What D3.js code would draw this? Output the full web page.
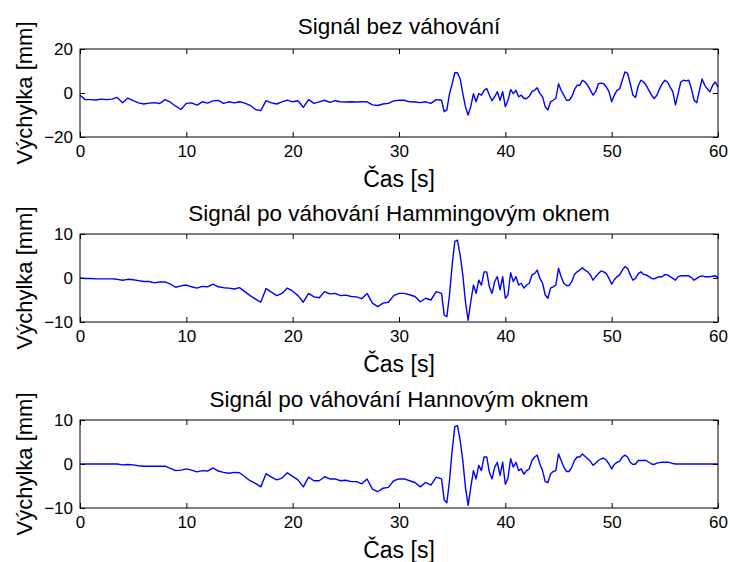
<!DOCTYPE html>
<html>
<head>
<meta charset="utf-8">
<script src="https://cdn.jsdelivr.net/npm/d3@7"></script>
<style>
  body { margin: 0; background: #fff; }
  svg text { font-family: Arial, "Liberation Sans", sans-serif; fill: #000; }
</style>
</head>
<body>
<svg id="chart" width="730" height="562"></svg>
<script>
// Sample times [s]: 0.5 s spacing in the quiet part, 0.25 s once the strong motion starts
const sampleTimes = [
  0,0.5,1,1.5,2,2.5,3,3.5,4,4.5,
  5,5.5,6,6.5,7,7.5,8,8.5,9,9.5,
  10,10.5,11,11.5,12,12.5,13,13.5,14,14.5,
  15,15.5,16,16.5,17,17.5,18,18.5,19,19.5,
  20,20.5,21,21.5,22,22.5,23,23.5,24,24.5,
  25,25.5,26,26.5,27,27.5,28,28.5,29,29.5,
  30,30.5,31,31.5,32,32.5,33,33.5,34,
  34.25,34.5,34.75,35, 35.25,35.5,35.75,36, 36.25,36.5,36.75,37, 37.25,37.5,37.75,38,
  38.25,38.5,38.75,39, 39.25,39.5,39.75,40, 40.25,40.5,40.75,41, 41.25,41.5,41.75,42,
  42.25,42.5,42.75,43, 43.25,43.5,43.75,44, 44.25,44.5,44.75,45, 45.25,45.5,45.75,46,
  46.25,46.5,46.75,47, 47.25,47.5,47.75,48, 48.25,48.5,48.75,49, 49.25,49.5,49.75,50,
  50.25,50.5,50.75,51, 51.25,51.5,51.75,52, 52.25,52.5,52.75,53, 53.25,53.5,53.75,54,
  54.25,54.5,54.75,55, 55.25,55.5,55.75,56, 56.25,56.5,56.75,57, 57.25,57.5,57.75,58,
  58.25,58.5,58.75,59, 59.25,59.5,59.75,60
];

// Raw displacement [mm]
const rawSignal = [
  -1,-3,-3,-3.2,-2.8,-3,-2.8,-2,-4.4,-2.3,
  -3.5,-4.5,-5,-4.6,-4.4,-4.8,-3,-4.2,-6,-7.5,
  -4.7,-4.5,-5.5,-4,-4.6,-3.6,-3.4,-4.7,-4,-4.5,
  -4,-4.6,-5.6,-7.5,-8,-3.5,-4.5,-5,-4,-3.2,
  -4,-3.5,-6.5,-3,-4.7,-4,-3.3,-4.3,-3.5,-4,
  -4.1,-4,-4.1,-4,-4,-5.4,-5.7,-5,-4.7,-3.6,
  -3.3,-3.3,-4,-4.1,-4.4,-4,-4.7,-3,-3.3,
  -8.5,-7.7,-0.3,4.2, 9.2,9.2,6.5,-0.3, -6.2,-10,-6.2,-0.3, -4,-0.3,-1,1.2,
  2,-1,-3.5,-1.7, 0.6,-3.3,0.6,-6.2, -3.3,1.5,-0.3,1.2, -1.7,-1,-2.5,-2.5,
  -1.5,0.6,1.2,2.4, -0.3,-1.7,-6.2,-7.7, -4,-3.3,-2.5,4.2, 1.2,-1,-3.3,-3.3,
  -1.7,1.5,3.5,3.5, 5.8,5,3.5,1.2, -1,0.6,4.2,4.5, 4.2,2.7,0.6,-4,
  -1,1.2,1.9,5.8, 9.6,8.9,4.2,-1, -2,3.3,5.8,5, 3.5,1.2,-1,-2.5,
  -1,1.9,4.2,5.8, 5,2.7,0.6,-5.4, -0.3,5,5.8,5.5, 5.8,1.9,-3.3,-4.4,
  1.2,6.4,3.5,1.9, 0.6,3.5,5,2.7
];

// Displacement after the Hamming window [mm]
const hammingSignal = [
  0,-0.1,-0.1,-0.2,-0.2,-0.2,-0.2,-0.3,-0.5,-0.3,
  -0.4,-0.6,-0.8,-0.8,-1.1,-0.9,-0.9,-1.4,-2.1,-1.8,
  -1.6,-2,-2.3,-1.9,-2,-1.4,-2,-2.2,-2.3,-2.5,
  -2.2,-3.1,-4,-4.8,-5.5,-2.4,-3.2,-4,-3.5,-2.3,
  -3,-4,-5.5,-3.5,-4.3,-4.5,-3.1,-3.6,-3.5,-4,
  -3.9,-4.2,-4.3,-4.7,-3.5,-5.7,-6.5,-5.7,-5.5,-4,
  -3.5,-3.5,-3.8,-4.2,-5.4,-4.6,-5,-3.1,-3.5,
  -8.4,-8.8,-3.8,3, 8.3,8.6,5.2,0.7, -5.4,-9.6,-5.4,-1.6, -3.5,-0.5,-1.6,1.4,
  1.4,-2,-3.5,-0.8, 0.3,-2.7,0.3,-4.6, -3.8,1.2,-0.8,0.3, -1.6,-1.2,-2.3,-1.6,
  -1.2,0.7,1,1.8, -0.1,-1.2,-3.8,-4.6, -2.3,-2,-1.6,2.2, 0.3,-1.2,-1.7,-1.7,
  -0.8,0.8,1.4,1.8, 2.3,1.8,1.4,0.7, -0.5,0.3,1,1.6, 1.4,1,-0.1,-1.4,
  -0.4,0.3,0.7,1.8, 2.6,2.2,0.7,-0.5, -0.1,1,1.4,0.8, 0.7,0.3,-0.1,-0.2,
  0.1,0.3,0.3,0.8, 0.7,0.3,-0.1,-0.5, 0.3,0.5,0.5,0.5, 0.5,0.1,-0.5,-0.1,
  0.3,0.5,0.3,0.3, 0.3,0.4,0.5,0.1
];

// Displacement after the Hann window [mm]
const hannSignal = [
  0,0,0,0,0,0,0,0,-0.2,-0.1,
  -0.2,-0.4,-0.5,-0.5,-0.5,-0.5,-0.5,-1,-1.5,-1.4,
  -1.1,-1.4,-1.8,-1.5,-1.6,-0.9,-1.6,-1.9,-2.1,-1.9,
  -2,-2.9,-3.8,-4.4,-5.2,-2.2,-3,-3.6,-3.2,-2,
  -2.8,-3.6,-5.2,-3,-3.8,-3.8,-2.9,-3.4,-3.4,-3.8,
  -3.7,-4,-4,-4.5,-3.4,-5.7,-6.3,-5.5,-5.3,-3.8,
  -3.4,-3.4,-3.8,-4.2,-5.2,-4.2,-4.8,-3,-3.4,
  -8.2,-8.8,-3.8,3.1, 8.5,8.7,5.4,0.8, -5.3,-9.4,-5.3,-1.5, -3.4,-0.3,-1.5,1.6,
  1.6,-1.9,-3.4,-0.7, 0.4,-2.6,0.4,-4.6, -3.2,1.2,-0.7,0.4, -1.5,-1.1,-2.3,-1.5,
  -1.1,0.8,1.6,2, 0,-1.5,-4,-4.2, -2.3,-1.7,-1.5,2.3, 0.8,-0.7,-1.7,-1.7,
  -0.7,0.8,1.6,1.6, 2.3,1.7,1.2,0.6, -0.3,0.2,0.8,1.2, 1.3,0.9,0,-1.1,
  -0.1,0.4,0.6,1.6, 2,1.6,0.4,-0.1, 0,0.8,0.8,0.8, 0.8,0.4,0,-0.1,
  0.2,0.3,0.4,0.4, 0.4,0.3,0.1,0, 0,0,0,0, 0,0,0,0,
  0,0,0,0, 0,0,0,0
];

const panelTitles = [
  "Signál bez váhování",
  "Signál po váhování Hammingovým oknem",
  "Signál po váhování Hannovým oknem"
];
const panelLimits = [[-20, 20], [-10, 10], [-10, 10]];
const panelYTicks = [[-20, 0, 20], [-10, 0, 10], [-10, 0, 10]];
const timeTicks = [0, 10, 20, 30, 40, 50, 60];
const timeLabel = "Čas [s]";
const valueLabel = "Výchylka [mm]";

const series = [rawSignal, hammingSignal, hannSignal];

// Layout
const left = 80, right = 718;
const panelTops = [49, 234, 420];
const titleOffsets = [15, 13, 13];
const panelHeight = 88;

const svg = d3.select("#chart");
const x = d3.scaleLinear().domain([0, 60]).range([left, right]);

series.forEach((values, i) => {
  const top = panelTops[i];
  const bottom = top + panelHeight;
  const y = d3.scaleLinear().domain(panelLimits[i]).range([bottom, top]);
  const g = svg.append("g");

  // signal trace
  const pts = sampleTimes.map((t, k) => [t, values[k]]);
  g.append("path")
    .datum(pts)
    .attr("fill", "none")
    .attr("stroke", "#0000ff")
    .attr("stroke-width", 1.4)
    .attr("stroke-linejoin", "round")
    .attr("d", d3.line().x(d => x(d[0])).y(d => y(d[1])));

  // axes with inward ticks on all four sides
  const styleAxis = sel => {
    sel.select(".domain").remove();
    sel.selectAll(".tick line").attr("stroke", "#000");
    sel.selectAll(".tick text").attr("font-size", 17).attr("fill", "#000");
  };

  g.append("g").attr("transform", `translate(0,${bottom})`)
    .call(d3.axisBottom(x).tickValues(timeTicks).tickSizeInner(-5).tickSizeOuter(0).tickPadding(8))
    .call(styleAxis);
  g.append("g").attr("transform", `translate(0,${top})`)
    .call(d3.axisTop(x).tickValues(timeTicks).tickSizeInner(-5).tickSizeOuter(0).tickFormat(""))
    .call(styleAxis);
  g.append("g").attr("transform", `translate(${left},0)`)
    .call(d3.axisLeft(y).tickValues(panelYTicks[i]).tickSizeInner(-5).tickSizeOuter(0).tickPadding(7))
    .call(styleAxis);
  g.append("g").attr("transform", `translate(${right},0)`)
    .call(d3.axisRight(y).tickValues(panelYTicks[i]).tickSizeInner(-5).tickSizeOuter(0).tickFormat(""))
    .call(styleAxis);

  // frame
  g.append("rect")
    .attr("x", left).attr("y", top)
    .attr("width", right - left).attr("height", panelHeight)
    .attr("fill", "none").attr("stroke", "#000").attr("stroke-width", 1);

  // title
  g.append("text")
    .attr("x", (left + right) / 2).attr("y", top - titleOffsets[i])
    .attr("text-anchor", "middle").attr("font-size", 22.5)
    .text(panelTitles[i]);

  // x label
  g.append("text")
    .attr("x", (left + right) / 2).attr("y", bottom + 50)
    .attr("text-anchor", "middle").attr("font-size", 23)
    .text(timeLabel);

  // y label
  g.append("text")
    .attr("transform", `translate(32,${(top + bottom) / 2}) rotate(-90)`)
    .attr("text-anchor", "middle").attr("font-size", 22)
    .text(valueLabel);
});
</script>
</body>
</html>
